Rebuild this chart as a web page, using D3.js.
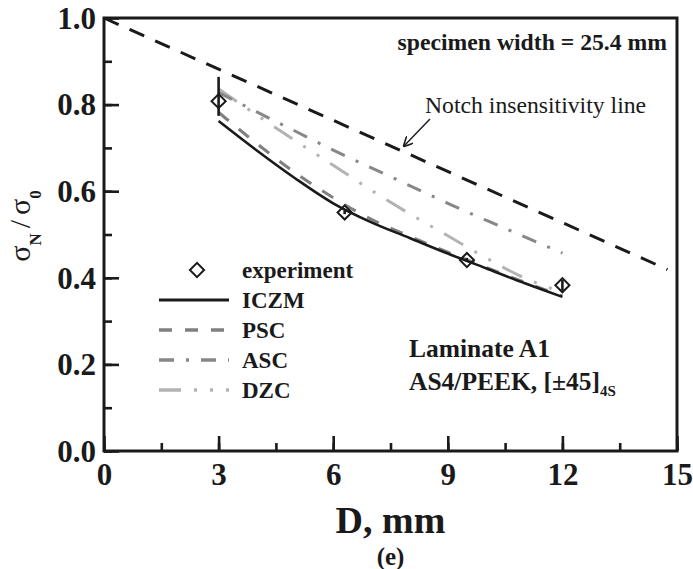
<!DOCTYPE html>
<html>
<head>
<meta charset="utf-8">
<script src="https://cdn.jsdelivr.net/npm/d3@7"></script>
<style>
  body { margin: 0; background: #fff; }
  svg { display: block; font-family: "Liberation Serif", "Times New Roman", serif; }
</style>
</head>
<body>
<svg id="chart"></svg>
<script>
// experiment points
const expD = [3, 6.3, 9.5, 12];
const expV = [0.808, 0.551, 0.441, 0.383];
const expLo = [0.774, 0.547, 0.437, 0.370];
const expHi = [0.864, 0.556, 0.446, 0.395];

// model curves at integer D
const modelD = [3, 4, 5, 6, 7, 8, 9, 10, 11, 12];
const iczm = [0.762, 0.694, 0.630, 0.572, 0.528, 0.492, 0.456, 0.422, 0.388, 0.356];
const psc  = [0.782, 0.710, 0.643, 0.585, 0.535, 0.496, 0.459, 0.424, 0.390, 0.358];
const asc  = [0.828, 0.783, 0.739, 0.695, 0.654, 0.613, 0.572, 0.533, 0.495, 0.457];
const dzc  = [0.836, 0.776, 0.717, 0.660, 0.602, 0.548, 0.497, 0.446, 0.400, 0.366];

// notch insensitivity line
const notchD = [0, 14.75];
const notchV = [1.0, 0.419];

const xTicks = [0, 3, 6, 9, 12, 15];
const yTicks = [0.0, 0.2, 0.4, 0.6, 0.8, 1.0];

const W = 693, H = 569;
const margin = { top: 18, left: 104, right: 16, bottom: 118 };
const width = W - margin.left - margin.right;
const height = H - margin.top - margin.bottom;

const svg = d3.select('#chart').attr('width', W).attr('height', H);
const g = svg.append('g').attr('transform', `translate(${margin.left},${margin.top})`);

const x = d3.scaleLinear().domain([0, 15]).range([0, width]);
const y = d3.scaleLinear().domain([0, 1]).range([height, 0]);

const series = [
    { name: 'ICZM', v: iczm, color: '#1a1a1a', width: 2.6, dash: null },
    { name: 'PSC', v: psc, color: '#808080', width: 3, dash: '13,13' },
    { name: 'ASC', v: asc, color: '#878787', width: 3, dash: '15,12,3,12' },
    { name: 'DZC', v: dzc, color: '#b3b3b3', width: 3, dash: '22,13,3,13,3,13' }
];

const line = d3.line()
    .x(d => x(d[0]))
    .y(d => y(d[1]))
    .curve(d3.curveMonotoneX);

// axes - ticks point inward
const fmtY = d3.format('.1f');
g.append('g')
    .attr('transform', `translate(0,${height})`)
    .call(d3.axisBottom(x).tickValues(d3.range(0, 15.1, 1.5)).tickSize(-8).tickFormat(''))
    .call(a => a.select('.domain').remove());
g.append('g')
    .attr('class', 'xmajor')
    .attr('transform', `translate(0,${height})`)
    .call(d3.axisBottom(x).tickValues(xTicks).tickSize(-15).tickPadding(12).tickFormat(d3.format('d')))
    .call(a => a.select('.domain').remove());
g.append('g')
    .call(d3.axisLeft(y).tickValues(d3.range(0, 1.01, 0.1)).tickSize(-8).tickFormat(''))
    .call(a => a.select('.domain').remove());
g.append('g')
    .attr('class', 'ymajor')
    .call(d3.axisLeft(y).tickValues(yTicks).tickSize(-15).tickPadding(8).tickFormat(fmtY))
    .call(a => a.select('.domain').remove());

g.selectAll('.tick line').attr('stroke', '#1a1a1a').attr('stroke-width', 2.6);
g.selectAll('.tick text')
    .attr('fill', '#1a1a1a')
    .style('font-family', '"Liberation Serif", serif')
    .style('font-weight', 'bold')
    .style('font-size', '31px');
g.selectAll('.ymajor .tick text').attr('dy', '0.33em');

// frame
g.append('rect')
    .attr('width', width).attr('height', height)
    .attr('fill', 'none').attr('stroke', '#1a1a1a').attr('stroke-width', 3);

// notch insensitivity line
g.append('path')
    .datum(notchD.map((d, i) => [d, notchV[i]]))
    .attr('d', d3.line().x(d => x(d[0])).y(d => y(d[1])))
    .attr('fill', 'none').attr('stroke', '#1a1a1a').attr('stroke-width', 3)
    .attr('stroke-dasharray', '16,12');

// model curves (drawn back to front)
series.slice().reverse().forEach(s => {
    g.append('path')
        .datum(modelD.map((d, i) => [d, s.v[i]]))
        .attr('d', line)
        .attr('fill', 'none')
        .attr('stroke', s.color)
        .attr('stroke-width', s.width)
        .attr('stroke-dasharray', s.dash);
});

// experiment: error bars + diamonds
const diamond = d3.symbol().type(d3.symbolSquare).size(100);
g.selectAll('.err')
    .data(expD)
    .join('line')
    .attr('x1', d => x(d)).attr('x2', d => x(d))
    .attr('y1', (d, i) => y(expLo[i])).attr('y2', (d, i) => y(expHi[i]))
    .attr('stroke', '#1a1a1a').attr('stroke-width', 2.6);
g.selectAll('.pt')
    .data(expD)
    .join('path')
    .attr('d', diamond)
    .attr('transform', (d, i) => `translate(${x(d)},${y(expV[i])}) rotate(45)`)
    .attr('fill', 'none').attr('stroke', '#1a1a1a').attr('stroke-width', 2);

// legend
const leg = svg.append('g').attr('transform', 'translate(159,270)');
leg.append('path')
    .attr('d', diamond)
    .attr('transform', 'translate(38,0) rotate(45)')
    .attr('fill', 'none').attr('stroke', '#1a1a1a').attr('stroke-width', 2);
leg.append('text').attr('x', 83).attr('y', 8).text('experiment');
series.forEach((s, i) => {
    const ly = 30 * (i + 1);
    leg.append('line')
        .attr('x1', 0).attr('x2', 70).attr('y1', ly).attr('y2', ly)
        .attr('stroke', s.color).attr('stroke-width', s.width + 0.4)
        .attr('stroke-dasharray', s.dash);
    leg.append('text').attr('x', 83).attr('y', ly + 8).text(s.name);
});
leg.selectAll('text')
    .attr('fill', '#1a1a1a')
    .style('font-weight', 'bold')
    .style('font-size', '23px');

// annotations
svg.append('text')
    .attr('x', 667).attr('y', 50)
    .attr('text-anchor', 'end')
    .style('font-weight', 'bold').style('font-size', '23.7px')
    .attr('fill', '#1a1a1a')
    .text('specimen width = 25.4 mm');

svg.append('text')
    .attr('x', 425).attr('y', 113)
    .style('font-size', '23.7px')
    .attr('fill', '#1a1a1a')
    .text('Notch insensitivity line');

svg.append('defs').append('marker')
    .attr('id', 'arrow')
    .attr('viewBox', '0 0 10 10')
    .attr('refX', 9).attr('refY', 5)
    .attr('markerWidth', 10).attr('markerHeight', 10)
    .attr('markerUnits', 'userSpaceOnUse')
    .attr('orient', 'auto')
    .append('path')
    .attr('d', 'M0,0 L10,5 L0,10')
    .attr('fill', 'none').attr('stroke', '#1a1a1a').attr('stroke-width', 1.6);
svg.append('line')
    .attr('x1', 430).attr('y1', 119).attr('x2', 404).attr('y2', 146)
    .attr('stroke', '#1a1a1a').attr('stroke-width', 1.4)
    .attr('marker-end', 'url(#arrow)');

const lam = svg.append('g')
    .attr('fill', '#1a1a1a')
    .style('font-weight', 'bold').style('font-size', '25.5px');
lam.append('text').attr('x', 409).attr('y', 357).text('Laminate A1');
const t2 = lam.append('text').attr('x', 409).attr('y', 390);
t2.append('tspan').text('AS4/PEEK, [±45]');
t2.append('tspan').attr('dy', 6).style('font-size', '15px').text('4S');

// axis titles
svg.append('text')
    .attr('x', margin.left + width / 2).attr('y', 533)
    .attr('text-anchor', 'middle')
    .attr('fill', '#1a1a1a')
    .style('font-weight', 'bold').style('font-size', '38px')
    .text('D, mm');

svg.append('text')
    .attr('x', margin.left + width / 2).attr('y', 565)
    .attr('text-anchor', 'middle')
    .attr('fill', '#1a1a1a')
    .style('font-weight', 'bold').style('font-size', '25px')
    .text('(e)');

const yt = svg.append('text')
    .attr('transform', 'translate(30,226) rotate(-90)')
    .attr('text-anchor', 'middle')
    .attr('fill', '#1a1a1a')
    .style('font-size', '30px');
yt.append('tspan').text('σ');
yt.append('tspan').attr('dy', 11).style('font-size', '17px').style('font-weight', 'bold').text('N');
yt.append('tspan').attr('dy', -11).attr('dx', 5).text('/');
yt.append('tspan').attr('dx', 5).text('σ');
yt.append('tspan').attr('dy', 11).style('font-size', '17px').style('font-weight', 'bold').text('0');
</script>
</body>
</html>
